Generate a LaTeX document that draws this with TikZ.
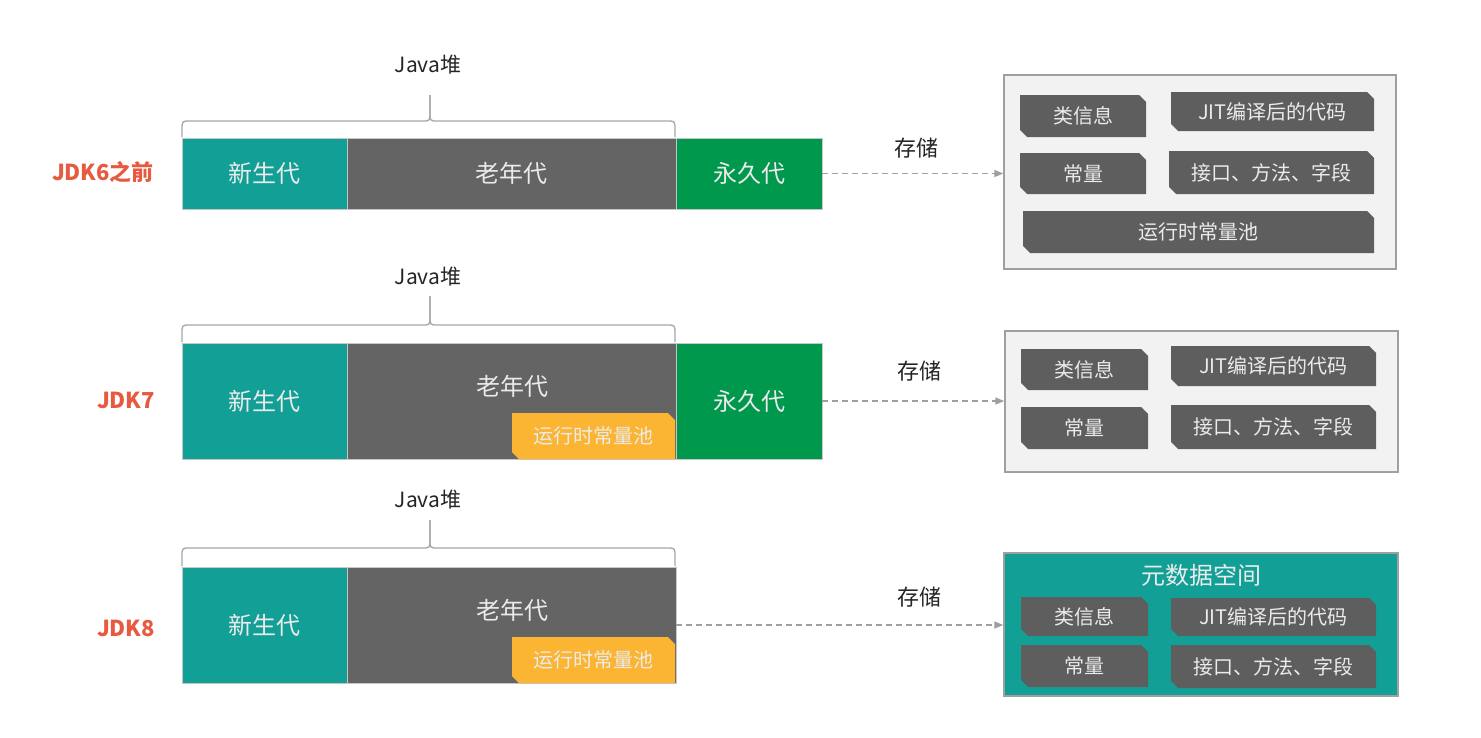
\documentclass[tikz,border=0pt]{standalone}
\usepackage{fontspec}
\setmainfont{Noto Sans CJK SC}
\usetikzlibrary{arrows.meta}
\definecolor{cteal}{HTML}{12A096}
\definecolor{cold}{HTML}{646464}
\definecolor{cperm}{HTML}{00984C}
\definecolor{cyel}{HTML}{FBB533}
\definecolor{cred}{HTML}{E85A40}
\definecolor{cinner}{HTML}{5E5E5E}
\definecolor{cpanel}{HTML}{F2F2F2}
\definecolor{cborder}{HTML}{A0A0A0}
\definecolor{ctxt}{HTML}{252525}
\begin{document}
\begin{tikzpicture}[x=1pt,y=-1pt,
  bar/.style={anchor=north west, inner sep=0pt, outer sep=0pt, draw=gray!45, line width=0.6pt},
  bartext/.style={text=white!92!black, font=\fontsize{24}{24}\selectfont},
  jdk/.style={text=cred, font=\fontsize{22}{22}\selectfont\bfseries},
  heaplabel/.style={text=ctxt, font=\fontsize{21}{21}\selectfont},
  storelabel/.style={text=ctxt, font=\fontsize{22}{22}\selectfont},
  panel/.style={draw=cborder, line width=1.4pt, inner sep=0pt},
  bracepath/.style={draw=gray!70, line width=1.3pt},
  conn/.style={draw=gray!75, line width=1.3pt, dash pattern=on 6pt off 4pt, -{Triangle[length=9pt,width=7pt]}},
  snipfill/.style={rectangle, inner sep=0pt, text=white!92!black,
    path picture={\fill[#1] (path picture bounding box.north west)
      -- ([xshift=-7pt]path picture bounding box.north east)
      -- ([yshift=-7pt]path picture bounding box.north east)
      -- (path picture bounding box.south east)
      -- ([xshift=7pt]path picture bounding box.south west)
      -- ([yshift=7pt]path picture bounding box.south west) -- cycle;}},
  ibox/.style={snipfill=cinner, font=\fontsize{20}{20}\selectfont},
  ybox/.style={snipfill=cyel, font=\fontsize{20}{20}\selectfont}
]
\useasboundingbox (0,0) rectangle (1481,737);
\fill[white] (0,0) rectangle (1481,737);

% ---------- Row 1 ----------
\node[bar, fill=cteal, minimum width=165pt, minimum height=71pt] (new1) at (182,138) {};
\node[bar, fill=cold, minimum width=329pt, minimum height=71pt] (old1) at (347,138) {};
\node[bar, fill=cperm, minimum width=146pt, minimum height=71pt] (perm1) at (676,138) {};
\node[bartext] (tnew1) at (new1.center) {新生代};
\node[bartext] (told1) at (old1.center) {老年代};
\node[bartext] (tperm1) at (perm1.center) {永久代};
\draw[bracepath] (182,137) -- (182,130) .. controls (182,121) .. (190,121) -- (422,121) .. controls (430,121) .. (430,112) -- (430,95);
\draw[bracepath] (430,95) -- (430,112) .. controls (430,121) .. (438,121) -- (667,121) .. controls (675,121) .. (675,130) -- (675,137);
\node[heaplabel] (heap1) at (428,65) {Java堆};
\node[jdk] (jdk1) at (103,172) {JDK6之前};
\node[panel, fill=cpanel, minimum width=392pt, minimum height=194pt] (store1) at (1200,172) {};
\node[ibox, minimum width=126pt, minimum height=42pt] (a1) at (1083,116) {类信息};
\node[ibox, minimum width=203pt, minimum height=39pt] (b1) at (1272.5,111.5) {JIT编译后的代码};
\node[ibox, minimum width=126pt, minimum height=41pt] (c1) at (1083,173.5) {常量};
\node[ibox, minimum width=205pt, minimum height=43pt] (d1) at (1271.5,172.5) {接口、方法、字段};
\node[ibox, minimum width=351pt, minimum height=42pt] (e1) at (1198.5,232) {运行时常量池};
\draw[conn] (perm1.east) -- (perm1.east -| store1.west);
\node[storelabel] (s1) at (916,148) {存储};

% ---------- Row 2 ----------
\node[bar, fill=cteal, minimum width=165pt, minimum height=116pt] (new2) at (182,343) {};
\node[bar, fill=cold, minimum width=329pt, minimum height=116pt] (old2) at (347,343) {};
\node[bar, fill=cperm, minimum width=146pt, minimum height=116pt] (perm2) at (676,343) {};
\node[bartext] (tnew2) at (new2.center) {新生代};
\node[bartext] (told2) at (512,386) {老年代};
\node[bartext] (tperm2) at (perm2.center) {永久代};
\node[ybox, minimum width=163pt, minimum height=46pt] (y2) at (593.5,436) {运行时常量池};
\draw[bracepath] (182,342) -- (182,334) .. controls (182,325) .. (190,325) -- (422,325) .. controls (430,325) .. (430,316) -- (430,296);
\draw[bracepath] (430,296) -- (430,316) .. controls (430,325) .. (438,325) -- (667,325) .. controls (675,325) .. (675,334) -- (675,342);
\node[heaplabel] (heap2) at (428,277) {Java堆};
\node[jdk] (jdk2) at (126,400) {JDK7};
\node[panel, fill=cpanel, minimum width=393pt, minimum height=141pt] (store2) at (1201.5,401.5) {};
\node[ibox, minimum width=127pt, minimum height=41pt] (a2) at (1084.5,369.5) {类信息};
\node[ibox, minimum width=205pt, minimum height=40pt] (b2) at (1273.5,366) {JIT编译后的代码};
\node[ibox, minimum width=127pt, minimum height=42pt] (c2) at (1084.5,428) {常量};
\node[ibox, minimum width=205pt, minimum height=44pt] (d2) at (1273.5,427) {接口、方法、字段};
\draw[conn] (perm2.east) -- (perm2.east -| store2.west);
\node[storelabel] (s2) at (919,371) {存储};

% ---------- Row 3 ----------
\node[bar, fill=cteal, minimum width=165pt, minimum height=116pt] (new3) at (182,567) {};
\node[bar, fill=cold, minimum width=329pt, minimum height=116pt] (old3) at (347,567) {};
\node[bartext] (tnew3) at (new3.center) {新生代};
\node[bartext] (told3) at (512,610) {老年代};
\node[ybox, minimum width=163pt, minimum height=46pt] (y3) at (593.5,660) {运行时常量池};
\draw[bracepath] (182,566) -- (182,557) .. controls (182,548) .. (190,548) -- (422,548) .. controls (430,548) .. (430,539) -- (430,520);
\draw[bracepath] (430,520) -- (430,539) .. controls (430,548) .. (438,548) -- (667,548) .. controls (675,548) .. (675,557) -- (675,566);
\node[heaplabel] (heap3) at (428,500) {Java堆};
\node[jdk] (jdk3) at (126,628) {JDK8};
\node[panel, fill=cteal, minimum width=394pt, minimum height=143pt] (store3) at (1201,624.5) {};
\node[bartext] (meta) at (1201,575) {元数据空间};
\node[ibox, minimum width=127pt, minimum height=39pt] (a3) at (1084.5,616.5) {类信息};
\node[ibox, minimum width=205pt, minimum height=38pt] (b3) at (1273.5,617) {JIT编译后的代码};
\node[ibox, minimum width=127pt, minimum height=42pt] (c3) at (1084.5,666) {常量};
\node[ibox, minimum width=205pt, minimum height=43pt] (d3) at (1273.5,666.5) {接口、方法、字段};
\draw[conn] (old3.east) -- (old3.east -| store3.west);
\node[storelabel] (s3) at (919,597) {存储};
\end{tikzpicture}
\end{document}
